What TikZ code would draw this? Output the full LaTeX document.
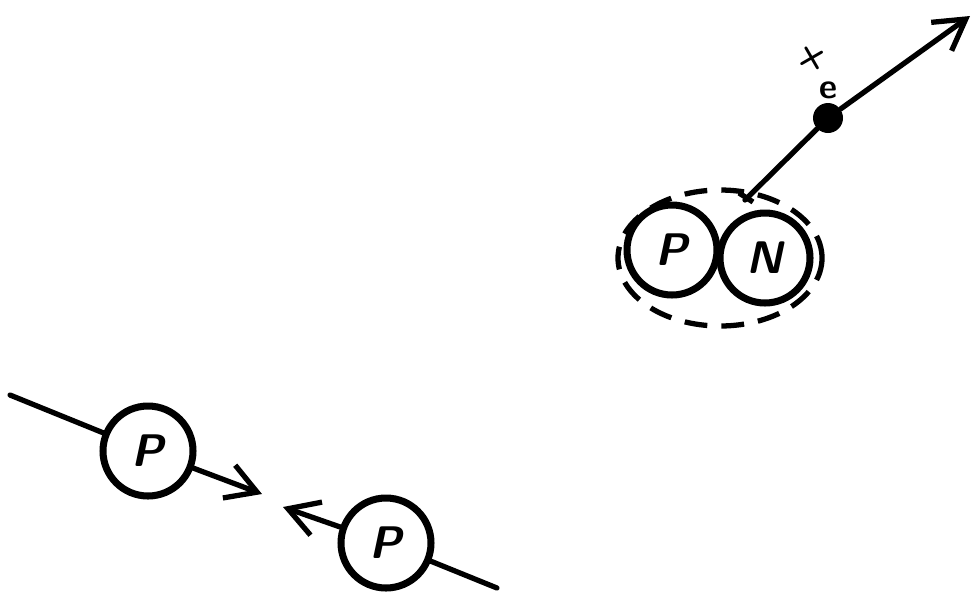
\documentclass[tikz,border=0pt]{standalone}
\usetikzlibrary{arrows.meta,calc}
\begin{document}
\begin{tikzpicture}[x=0.02cm,y=-0.02cm,
  particle/.style={circle,draw,line width=4pt,minimum size=1.8cm,inner sep=0pt,
    font=\sffamily\bfseries\fontsize{26}{30}\selectfont\itshape},
  track/.style={line width=3pt,line cap=round},
  barb/.style={-{Straight Barb[length=0.6cm,width=0.7cm,line width=3pt]}},
  dotnode/.style={circle,fill,inner sep=0pt,minimum size=0.6cm},
  cloud/.style={draw,line width=3pt,dash pattern=on 13pt off 8pt},
  charge/.style={font=\sffamily\bfseries\fontsize{20}{20}\selectfont,inner sep=0pt}]
\useasboundingbox (0,0) rectangle (972,593);
% right group: deuteron and positron
\draw[cloud] (720,258) ellipse [x radius=102, y radius=68];
\node[particle] (p) at (672,250) {P};
\node[particle] (n) at (765,258) {N};
\coordinate (st) at (745,200);
\node[dotnode] (dot) at (828,118) {};
\coordinate (tip) at (970,16);
\draw[track] (st) -- (dot);
\draw[track,barb] (dot) -- (tip);
\draw[line width=3pt] ($(st)+(-6,-7)$) -- ($(st)+(8,2)$);
\node[charge,rotate=30] (plus) at (812,58) {+};
\node[charge] (e) at (828,90) {e};
% left group: two colliding protons
\node[particle] (p1) at (148,451) {P};
\node[particle] (p2) at (386,543) {P};
\coordinate (a1) at (10,395);
\coordinate (t1) at (262,494);
\coordinate (t2) at (283,507);
\coordinate (a2) at (497,588);
\draw[track] (a1) -- (p1);
\draw[track,barb] (p1) -- (t1);
\draw[track] (a2) -- (p2);
\draw[track,barb] (p2) -- (t2);
\end{tikzpicture}
\end{document}
